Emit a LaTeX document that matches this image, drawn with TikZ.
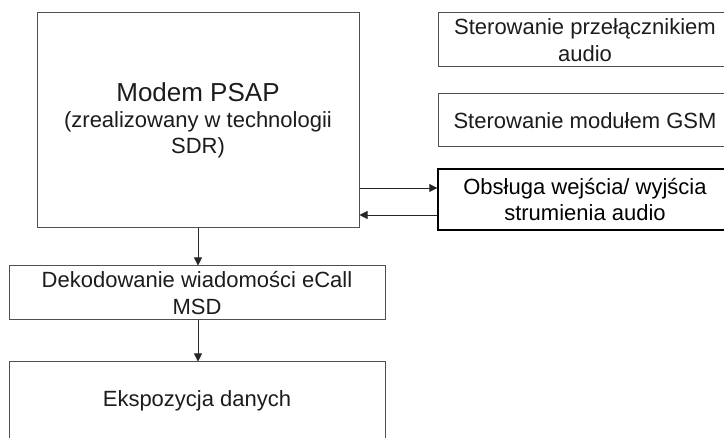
\documentclass[tikz,border=0pt]{standalone}
\usepackage{fontspec}
\setmainfont{Liberation Sans}
\usetikzlibrary{arrows.meta}
\definecolor{linegray}{HTML}{505050}
\definecolor{textgray}{HTML}{1C1C1C}
\begin{document}
\begin{tikzpicture}[x=1pt,y=-1pt,
  box/.style={draw=linegray, line width=1pt, fill=white, text=textgray,
    align=center, inner sep=0pt, font=\fontsize{22}{26.5}\selectfont},
  boldbox/.style={box, draw=black, line width=1.4pt, text=black},
  flow/.style={draw=black!85, line width=0.9pt,
    -{Triangle[length=8pt,width=8pt]}}]
  \useasboundingbox (0,0) rectangle (724,438);
  \clip (0,0) rectangle (724,438);

  % left column
  \node[box, minimum width=322pt, minimum height=215pt] (modem) at (198,120.5)
    {{\fontsize{26}{30}\selectfont Modem PSAP}\\[-1pt]
     (zrealizowany w technologii\\SDR)};
  \node[box, minimum width=376pt, minimum height=54pt] (decode) at (197,293)
    {Dekodowanie wiadomości eCall\\MSD};
  \node[box, minimum width=376pt, minimum height=78pt] (expo) at (197,401)
    {Ekspozycja danych};

  % right column
  \node[box, minimum width=294pt, minimum height=54pt] (switch) at (585,40)
    {Sterowanie przełącznikiem\\audio};
  \node[box, minimum width=294pt, minimum height=53pt] (gsm) at (585,120.5)
    {Sterowanie modułem GSM};
  \node[boldbox, minimum width=294pt, minimum height=61pt] (stream) at (585,199.5)
    {Obsługa wejścia/ wyjścia\\strumienia audio};

  % connectors
  \coordinate (m1) at (modem.east |- 0,188);
  \coordinate (m2) at (modem.east |- 0,215);
  \draw[flow] (m1) -- (m1 -| stream.west);
  \draw[flow] (m2 -| stream.west) -- (m2);
  \draw[flow] (modem.south) -- (modem.south |- decode.north);
  \draw[flow] (modem.south |- decode.south) -- (modem.south |- expo.north);
\end{tikzpicture}
\end{document}
